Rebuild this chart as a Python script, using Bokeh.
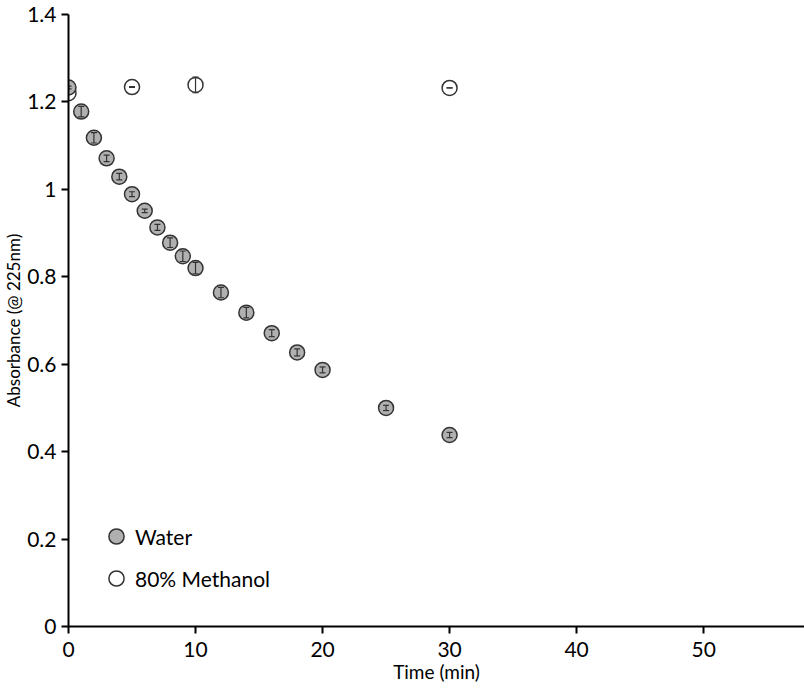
import numpy as np
from bokeh.plotting import figure
from bokeh.models import (ColumnDataSource, FixedTicker, Legend, LegendItem, Range1d)
from bokeh.embed import file_html
from bokeh.resources import INLINE

# ---- data ----
water_t = [0, 1, 2, 3, 4, 5, 6, 7, 8, 9, 10, 12, 14, 16, 18, 20, 25, 30]
water_abs = [1.233, 1.178, 1.118, 1.071, 1.029, 0.989, 0.951, 0.913, 0.878,
             0.847, 0.820, 0.764, 0.718, 0.671, 0.627, 0.587, 0.500, 0.438]
water_err = [0.003, 0.012, 0.012, 0.0075, 0.0074, 0.0055, 0.004, 0.0067, 0.011,
             0.012, 0.013, 0.012, 0.012, 0.008, 0.008, 0.0067, 0.006, 0.006]

meth_t = [0, 5, 10, 30]
meth_abs = [1.220, 1.234, 1.239, 1.232]
meth_err = [0.003, 0.001, 0.018, 0.0]

x_ticks = [0, 10, 20, 30, 40, 50]
y_ticks = [0, 0.2, 0.4, 0.6, 0.8, 1, 1.2, 1.4]
y_tick_labels = ["0", "0.2", "0.4", "0.6", "0.8", "1", "1.2", "1.4"]

x_title = "Time (min)"
y_title = "Absorbance (@ 225nm)"
series_names = ["Water", "80% Methanol"]

FONT = "Lato"

def src(t, a, e):
    t = np.array(t, float); a = np.array(a, float); e = np.array(e, float)
    return ColumnDataSource(dict(t=t, a=a, lo=a - e, hi=a + e))

ws = src(water_t, water_abs, water_err)
ms = src(meth_t, meth_abs, meth_err)

p = figure(width=804, height=692, output_backend="svg", toolbar_location=None,
           x_range=Range1d(0, 57.94), y_range=Range1d(0, 1.4),
           min_border_left=67, min_border_right=0, min_border_top=14,
           min_border_bottom=66)
p.outline_line_color = None
p.xgrid.visible = False
p.ygrid.visible = False
p.background_fill_color = "white"
p.border_fill_color = "white"

for ax in (p.xaxis[0], p.yaxis[0]):
    ax.axis_line_width = 2
    ax.axis_line_color = "black"
    ax.major_tick_line_width = 2
    ax.major_tick_line_color = "black"
    ax.major_tick_in = 0
    ax.major_tick_out = 7
    ax.minor_tick_line_color = None
    ax.major_label_text_font = FONT
    ax.major_label_text_font_size = "21px"
    ax.major_label_text_color = "black"
    ax.axis_label_text_font = FONT
    ax.axis_label_text_font_style = "normal"
    ax.axis_label_text_color = "black"
    ax.axis_label_standoff = 0

p.xaxis.ticker = FixedTicker(ticks=x_ticks)
p.xaxis.major_label_standoff = 8
p.xaxis.axis_label = x_title
p.xaxis.axis_label_text_font_size = "19px"

p.yaxis.ticker = FixedTicker(ticks=y_ticks)
p.yaxis.major_label_overrides = {t: l for t, l in zip(y_ticks, y_tick_labels)}
p.yaxis.major_label_standoff = 5
p.yaxis.axis_label = y_title
p.yaxis.axis_label_text_font_size = "17px"

# methanol first (underneath)
mr = p.scatter("t", "a", source=ms, size=15, fill_color="white",
               line_color="#333333", line_width=1.5)
p.segment(x0="t", y0="lo", x1="t", y1="hi", source=ms, line_color="#333333", line_width=1.2)
p.scatter("t", "lo", source=ms, marker="dash", size=6, line_color="#333333", line_width=1.2)
p.scatter("t", "hi", source=ms, marker="dash", size=6, line_color="#333333", line_width=1.2)

wr = p.scatter("t", "a", source=ws, size=15, fill_color="#b0b0b0",
               line_color="#333333", line_width=1.5)
p.segment(x0="t", y0="lo", x1="t", y1="hi", source=ws, line_color="#333333", line_width=1.2)
p.scatter("t", "lo", source=ws, marker="dash", size=6, line_color="#333333", line_width=1.2)
p.scatter("t", "hi", source=ws, marker="dash", size=6, line_color="#333333", line_width=1.2)

legend = Legend(items=[LegendItem(label=series_names[0], renderers=[wr]),
                       LegendItem(label=series_names[1], renderers=[mr])],
                location=(29, 29), glyph_width=38, glyph_height=38, spacing=4,
                padding=0, margin=0, label_standoff=0,
                border_line_color=None, background_fill_alpha=0,
                label_text_font=FONT, label_text_font_size="21px",
                label_text_color="black")
p.add_layout(legend, "center")

open("out.html", "w").write(file_html(p, INLINE))
